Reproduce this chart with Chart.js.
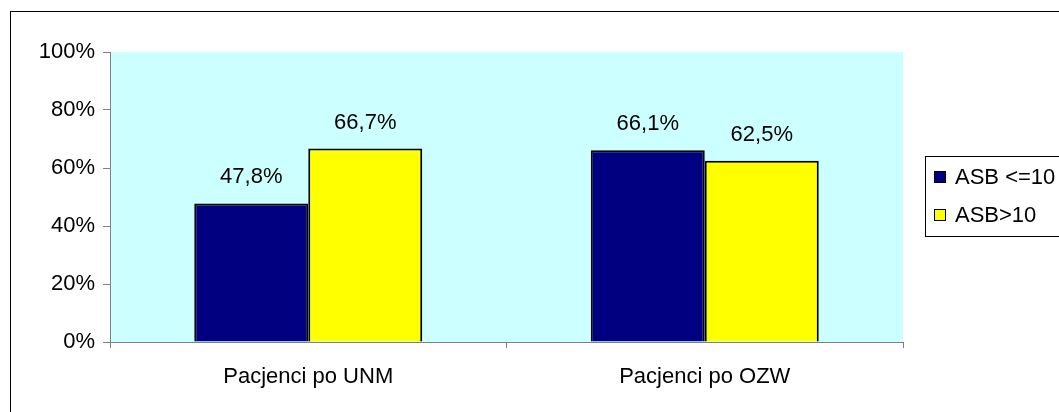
<!DOCTYPE html>
<html>
<head>
<meta charset="utf-8">
<script src="https://cdn.jsdelivr.net/npm/chart.js@4/dist/chart.umd.min.js"></script>
<style>
    html, body { margin: 0; padding: 0; background: #fff; }
    #wrap { width: 1059px; height: 412px; }
</style>
</head>
<body>
<div id="wrap"><canvas id="asbChart" width="1059" height="412"></canvas></div>
<script>
// Data
const categories = ['Pacjenci po UNM', 'Pacjenci po OZW'];
const seriesNames = ['ASB <=10', 'ASB>10'];
const asbLow = [47.8, 66.1];
const asbHigh = [66.7, 62.5];
const yTicks = [0, 20, 40, 60, 80, 100];

const colors = {
    navy: '#000080',
    yellow: '#FFFF00',
    plotBg: '#CCFFFF',
    axis: '#808080',
    text: '#000000'
};

const fontFamily = '"Liberation Sans", Arial, sans-serif';

// background, outer frame, value labels and legend box
const decorPlugin = {
    id: 'decor',
    beforeDraw(chart) {
        const ctx = chart.ctx;
        const a = chart.chartArea;
        ctx.save();
        ctx.fillStyle = '#fff';
        ctx.fillRect(0, 0, chart.width, chart.height);
        ctx.fillStyle = colors.plotBg;
        ctx.fillRect(a.left, a.top, a.right - a.left, a.bottom - a.top);
        ctx.strokeStyle = '#000';
        ctx.lineWidth = 1;
        ctx.strokeRect(10.5, 11.5, chart.width + 20, chart.height + 20);
        ctx.restore();
    },
    afterDatasetsDraw(chart) {
        const ctx = chart.ctx;
        ctx.save();
        ctx.font = '22px ' + fontFamily;
        ctx.fillStyle = colors.text;
        ctx.textAlign = 'center';
        ctx.textBaseline = 'middle';
        chart.data.datasets.forEach((ds, i) => {
            chart.getDatasetMeta(i).data.forEach((bar, j) => {
                const txt = ds.data[j].toFixed(1).replace('.', ',') + '%';
                ctx.fillText(txt, bar.x, bar.y - 26);
            });
        });

        // legend
        const lx = 925, ly = 156, lw = 140, lh = 80;
        ctx.fillStyle = '#fff';
        ctx.fillRect(lx, ly, lw, lh);
        ctx.strokeStyle = '#000';
        ctx.lineWidth = 1;
        ctx.strokeRect(lx + 0.5, ly + 0.5, lw, lh);
        ctx.textAlign = 'left';
        chart.data.datasets.forEach((ds, i) => {
            const cy = ly + 21 + i * 38;
            ctx.fillStyle = ds.backgroundColor;
            ctx.fillRect(lx + 9, cy - 6, 12, 12);
            ctx.strokeRect(lx + 9.5, cy - 5.5, 11, 11);
            ctx.fillStyle = colors.text;
            ctx.fillText(ds.label, lx + 30, cy + 1);
        });
        ctx.restore();
    }
};

const ctx = document.getElementById('asbChart').getContext('2d');
const asbChart = new Chart(ctx, {
    type: 'bar',
    data: {
        labels: categories,
        datasets: [{
            label: seriesNames[0],
            data: asbLow,
            backgroundColor: colors.navy,
            borderColor: '#000',
            borderWidth: 2
        }, {
            label: seriesNames[1],
            data: asbHigh,
            backgroundColor: colors.yellow,
            borderColor: '#000',
            borderWidth: 2
        }]
    },
    options: {
        responsive: false,
        animation: false,
        layout: {
            padding: { left: 10, top: 52, right: 156, bottom: 0 }
        },
        datasets: {
            bar: {
                barPercentage: 1,
                categoryPercentage: 0.575
            }
        },
        plugins: {
            legend: { display: false },
            tooltip: { enabled: false }
        },
        scales: {
            y: {
                min: 0,
                max: 100,
                afterFit(scale) { scale.width = 100; },
                afterBuildTicks(scale) {
                    scale.ticks = yTicks.map(v => ({ value: v }));
                },
                border: { display: true, color: colors.axis, width: 1 },
                grid: {
                    drawOnChartArea: false,
                    drawTicks: true,
                    tickLength: 7,
                    color: colors.axis
                },
                ticks: {
                    padding: 8,
                    color: colors.text,
                    font: { family: fontFamily, size: 22 },
                    callback: v => v + '%'
                }
            },
            x: {
                afterFit(scale) { scale.height = 70; },
                border: { display: true, color: colors.axis, width: 1 },
                grid: {
                    offset: true,
                    drawOnChartArea: false,
                    drawTicks: true,
                    tickLength: 6,
                    color: colors.axis
                },
                ticks: {
                    padding: 16,
                    color: colors.text,
                    font: { family: fontFamily, size: 22 }
                }
            }
        }
    },
    plugins: [decorPlugin]
});
</script>
</body>
</html>
